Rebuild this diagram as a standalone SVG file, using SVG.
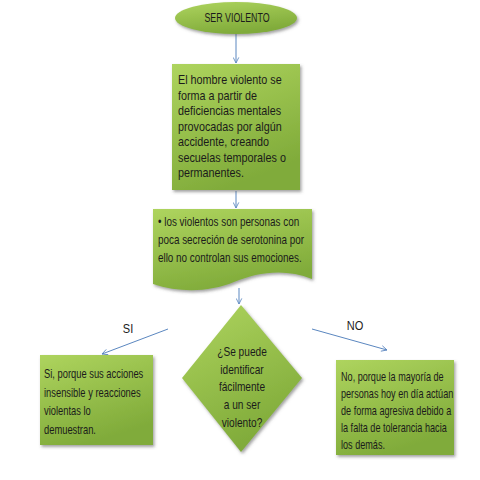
<svg xmlns="http://www.w3.org/2000/svg" width="480" height="480" viewBox="0 0 480 480">
<style>
.t{font-family:"Liberation Sans",Arial,sans-serif;font-size:13px;fill:#1b1b1b}
.c{text-anchor:middle}
.shape{fill:url(#g);filter:url(#sh)}
.conn{stroke:#5b87c0;stroke-width:1;fill:none;marker-end:url(#ah)}
</style>
<defs>
<linearGradient id="g" x1="0" y1="0" x2="0.4" y2="1">
<stop offset="0" stop-color="#aed45e"/>
<stop offset="1" stop-color="#80ab3a"/>
</linearGradient>
<filter id="sh" x="-20%" y="-20%" width="140%" height="140%">
<feDropShadow dx="1.5" dy="2" stdDeviation="1.5" flood-color="#555" flood-opacity="0.55"/>
</filter>
<marker id="ah" viewBox="0 0 10 10" refX="9" refY="5" markerWidth="7" markerHeight="7" orient="auto" markerUnits="userSpaceOnUse">
<path d="M1,1 L9,5 L1,9" fill="none" stroke="#5b87c0" stroke-width="1.2"/>
</marker>
</defs>
<rect width="480" height="480" fill="#ffffff"/>
<g id="connectors">
<line class="conn" x1="236" y1="34" x2="236" y2="63"/>
<line class="conn" x1="236" y1="191" x2="236" y2="208"/>
<line class="conn" x1="239" y1="288" x2="239" y2="304"/>
<line class="conn" x1="168" y1="329" x2="102" y2="354"/>
<line class="conn" x1="312" y1="329" x2="387" y2="350"/>
</g>
<g id="start">
<ellipse class="shape" cx="236" cy="18" rx="61" ry="16"/>
<g transform="translate(237,0) scale(0.68,1)">
<text class="t c" x="0" y="22.5" font-size="12.5">SER VIOLENTO</text>
</g>
</g>
<g id="box1">
<rect class="shape" x="172" y="64" width="128" height="126"/>
<g transform="translate(178,0) scale(0.83,1)">
<text class="t" x="0" y="84" font-size="14">El hombre violento se</text>
<text class="t" x="0" y="100" font-size="14">forma a partir de</text>
<text class="t" x="0" y="115.5" font-size="14">deficiencias mentales</text>
<text class="t" x="0" y="131" font-size="14">provocadas por algún</text>
<text class="t" x="0" y="146.5" font-size="14">accidente, creando</text>
<text class="t" x="0" y="162" font-size="14">secuelas temporales o</text>
<text class="t" x="0" y="177.5" font-size="14">permanentes.</text>
</g>
</g>
<g id="box2">
<path class="shape" d="M153,209 H312 V279 C285,268 258,272 234,282 C210,292 180,293 153,284 Z"/>
<g transform="translate(158,0) scale(0.76,1)">
<text class="t" x="0" y="226">• los violentos son personas con</text>
<text class="t" x="0" y="244">poca secreción de serotonina por</text>
<text class="t" x="0" y="262">ello no controlan sus emociones.</text>
</g>
</g>
<g id="decision">
<path class="shape" d="M241,305 L302,378 L241,452 L182,378 Z"/>
<g transform="translate(242,0) scale(0.78,1)">
<text class="t c" x="0" y="356">¿Se puede</text>
<text class="t c" x="0" y="374">identificar</text>
<text class="t c" x="0" y="391.5">fácilmente</text>
<text class="t c" x="0" y="409">a un ser</text>
<text class="t c" x="0" y="427">violento?</text>
</g>
</g>
<g id="label-si">
<g transform="translate(128,0) scale(0.85,1)">
<text class="t c" x="0" y="333.5" font-size="14">SI</text>
</g>
</g>
<g id="label-no">
<g transform="translate(355,0) scale(0.85,1)">
<text class="t c" x="0" y="330.5" font-size="14">NO</text>
</g>
</g>
<g id="box-si">
<rect class="shape" x="40" y="355" width="113" height="90"/>
<g transform="translate(44,0) scale(0.72,1)">
<text class="t" x="0" y="378" font-size="12.5">Si, porque sus acciones</text>
<text class="t" x="0" y="397" font-size="12.5">insensible y reacciones</text>
<text class="t" x="0" y="415.5" font-size="12.5">violentas lo</text>
<text class="t" x="0" y="434" font-size="12.5">demuestran.</text>
</g>
</g>
<g id="box-no">
<rect class="shape" x="336" y="360" width="118" height="95"/>
<g transform="translate(341,0) scale(0.7,1)">
<text class="t" x="0" y="381" font-size="12">No, porque la mayoría de</text>
<text class="t" x="0" y="398" font-size="12">personas hoy en día actúan</text>
<text class="t" x="0" y="415" font-size="12">de forma agresiva debido a</text>
<text class="t" x="0" y="432" font-size="12">la falta de tolerancia hacia</text>
<text class="t" x="0" y="449.5" font-size="12">los demás.</text>
</g>
</g>
</svg>
